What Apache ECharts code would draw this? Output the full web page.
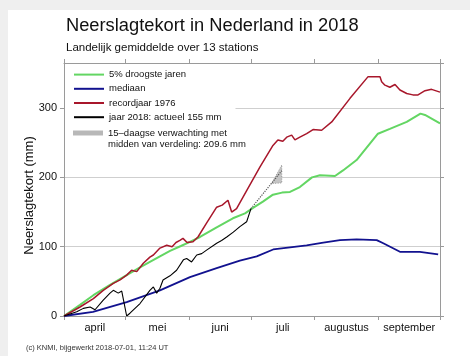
<!DOCTYPE html>
<html><head><meta charset="utf-8">
<script src="https://cdn.jsdelivr.net/npm/echarts@6/dist/echarts.min.js"></script>
<style>
html,body{margin:0;padding:0;background:#efefef}
#wrap{position:relative;width:470px;height:356px;background:#efefef;overflow:hidden}
#panel{position:absolute;left:8px;top:10px;width:462px;height:346px;background:#fff}
#c{position:absolute;left:0;top:0;width:470px;height:356px}
</style>
</head><body>
<div id="wrap"><div id="panel"></div><div id="c"></div></div>
<script>
// ---- texts ----
const titleText = 'Neerslagtekort in Nederland in 2018';
const subtitleText = 'Landelijk gemiddelde over 13 stations';
const creditText = '(c) KNMI, bijgewerkt 2018-07-01, 11:24 UT';
const yAxisName = 'Neerslagtekort (mm)';
const nameGreen = '5% droogste jaren';
const nameBlue = 'mediaan';
const nameRed = 'recordjaar 1976';
const nameBlack = 'jaar 2018: actueel 155 mm';
const nameForecast = '15\u2013daagse verwachting met';
const forecastLine2 = 'midden van verdeling: 209.6 mm';

// ---- axis ----
const monthNames = ['april', 'mei', 'juni', 'juli', 'augustus', 'september'];
const monthStarts = [0, 30, 61, 91, 122, 153, 183]; // days since 1 April
const yMax = 365;

// ---- series (day since 1 April, mm) ----
const greenDays = [0, 7.8, 14.3, 22.4, 30.5, 37, 41.8, 46.7, 51.6, 56.9, 61.3, 66.2, 74.3, 82.2, 88.1, 92, 96.8, 101.7, 106.1, 110, 114.8, 120.7, 124.6, 131.9, 135.8, 142.4, 152.8, 158.6, 166.8, 173.5, 175.7, 183];
const greenVals = [0, 16, 30, 45, 59, 70, 78, 86, 94, 101, 107, 114, 128, 141, 148, 156, 165, 175, 178, 179, 186, 200, 203, 202, 210, 225, 263, 270, 280, 292, 290, 278];

const blueDays = [0, 14.1, 30.5, 46.7, 61.3, 74.3, 85.6, 93.8, 101.8, 110, 118.1, 126.2, 134.3, 142.4, 152.2, 155.4, 163.5, 173.2, 182.1];
const blueVals = [0, 6, 20, 37, 56, 69, 80, 86, 96, 99, 102, 106, 109.5, 110.5, 109.5, 105, 92.6, 92.6, 89];

const redDays = [0, 7.8, 14.3, 19.1, 24, 27.3, 30.5, 32.9, 35.4, 38.6, 41.8, 43.5, 46.7, 50, 52.6, 54.5, 56.4, 57.9, 59.9, 62.8, 65.2, 69.6, 74.3, 77, 79.8, 81.6, 84, 88.9, 95.4, 101.7, 104.1, 106.5, 108.4, 110.8, 112.4, 114.8, 118.1, 121.2, 125.4, 130.3, 139.2, 147.9, 153.8, 154.6, 156.2, 158.6, 161.1, 163.5, 166.8, 169.8, 172.3, 175.7, 178.9, 183];
const redVals = [0, 13, 25, 37, 47, 52, 59, 66, 64, 76, 85, 88, 98, 102, 100, 106, 109, 112, 106, 107, 114, 135, 157, 160, 167, 150, 155, 181, 215, 246, 254, 252, 258, 261, 254, 258, 263, 269, 268, 280, 314, 345, 345, 338, 333, 330, 334, 326, 321, 319, 319, 325, 327, 323];

const blackDays = [0, 6.2, 9.4, 12.7, 15.1, 19.1, 22.4, 24, 26.4, 28.1, 30.5, 32.1, 37, 41.8, 43.5, 45.1, 46.7, 48.2, 51.6, 54.8, 58.1, 59.7, 62.1, 64.6, 67, 69.4, 74.3, 76.7, 79.2, 82.4, 85.6, 88.9, 90, 91];
const blackVals = [0, 6, 11, 13, 9, 23, 33, 37, 33, 36, 0, 4, 18, 37, 42, 33, 40, 52, 58, 66, 81, 83, 78, 88, 90, 95, 105, 109, 114, 121, 129, 136, 146, 155];

const forecastDays = [91, 106];
const forecastVals = [155, 209.6];
const bandDays = [101, 106];
const bandLow = [191, 192];
const bandHigh = [191, 218];

// ---- build ----
const F = '"Liberation Sans", Arial, Helvetica, sans-serif';
const axisGray = '#9a9a9a';
const txt = '#111';
const zip = (xs, ys) => xs.map((x, i) => [x, ys[i]]);
const monthMids = monthNames.map((_, i) => (monthStarts[i] + monthStarts[i + 1]) / 2);
const monthLabel = v => {
  let best = 0;
  monthMids.forEach((m, i) => { if (Math.abs(m - v) < Math.abs(monthMids[best] - v)) best = i; });
  return monthNames[best];
};

const chart = echarts.init(document.getElementById('c'), null, {renderer: 'canvas'});
const baseX = {
  type: 'value', min: 0, max: monthStarts[monthStarts.length - 1],
  axisLine: {show: true, onZero: false, lineStyle: {color: axisGray, width: 1}},
  axisTick: {show: true, inside: false, length: 4, customValues: monthStarts, lineStyle: {color: axisGray}},
  splitLine: {show: false}
};
const baseY = {
  type: 'value', min: 0, max: yMax, interval: 100,
  axisLine: {show: true, onZero: false, lineStyle: {color: axisGray, width: 1}},
  axisTick: {show: true, inside: false, length: 4, lineStyle: {color: axisGray}}
};

chart.setOption({
  animation: false,
  backgroundColor: 'transparent',
  textStyle: {fontFamily: F, color: txt},
  title: [
    {text: titleText, left: 66, top: 17, padding: 0, textStyle: {fontFamily: F, fontSize: 18.3, fontWeight: 'normal', color: txt}},
    {text: subtitleText, left: 66, top: 42, padding: 0, textStyle: {fontFamily: F, fontSize: 11.5, fontWeight: 'normal', color: txt}},
    {text: creditText, left: 26, top: 344, padding: 0, textStyle: {fontFamily: F, fontSize: 7.5, fontWeight: 'normal', color: '#333'}}
  ],
  grid: {left: 64, right: 30, top: 63, bottom: 40, outerBoundsMode: 'none', containLabel: false},
  xAxis: [
    Object.assign({}, baseX, {position: 'bottom',
      axisLabel: {customValues: monthMids, formatter: monthLabel, fontFamily: F, fontSize: 11, color: txt, margin: 6}}),
    Object.assign({}, baseX, {position: 'top', axisLabel: {show: false}})
  ],
  yAxis: [
    Object.assign({}, baseY, {position: 'left',
      axisLabel: {fontFamily: F, fontSize: 11, color: txt, margin: 7, showMaxLabel: false},
      splitLine: {show: true, lineStyle: {color: '#cfcfcf', width: 1}},
      name: yAxisName, nameLocation: 'middle', nameGap: 28, nameMoveOverlap: false,
      nameTextStyle: {fontFamily: F, fontSize: 13, color: txt, padding: [0, 12, 0, 0]}}),
    Object.assign({}, baseY, {position: 'right', axisLabel: {show: false}, splitLine: {show: false}})
  ],
  legend: [
    {orient: 'vertical', left: 65, top: 68, padding: [1, 14, 1, 8], itemGap: 3, itemWidth: 30, itemHeight: 14,
      backgroundColor: '#fff', selectedMode: false,
      itemStyle: {opacity: 0},
      textStyle: {fontFamily: F, fontSize: 9.5, color: txt},
      data: [nameGreen, nameBlue, nameRed, nameBlack]},
    {orient: 'vertical', left: 73, top: 128, padding: 0, itemGap: 0, itemWidth: 30, itemHeight: 5, selectedMode: false,
      textStyle: {fontFamily: F, fontSize: 9.5, color: txt},
      data: [{name: nameForecast, icon: 'rect', itemStyle: {color: '#b8b8b8'}}]}
  ],
  graphic: [
    {type: 'text', left: 108, top: 139, z: 100,
      style: {text: forecastLine2, font: '9.5px ' + F, fill: txt}}
  ],
  series: [
    {name: nameGreen, type: 'line', data: zip(greenDays, greenVals), symbol: 'none', z: 3,
      lineStyle: {color: '#63d663', width: 2}, itemStyle: {color: '#63d663'}},
    {name: nameBlue, type: 'line', data: zip(blueDays, blueVals), symbol: 'none', z: 3,
      lineStyle: {color: '#12128f', width: 1.8}, itemStyle: {color: '#12128f'}},
    {name: nameRed, type: 'line', data: zip(redDays, redVals), symbol: 'none', z: 4,
      lineStyle: {color: '#a8172b', width: 1.5}, itemStyle: {color: '#a8172b'}},
    {name: nameBlack, type: 'line', data: zip(blackDays, blackVals), symbol: 'none', z: 5,
      lineStyle: {color: '#000', width: 1.1}, itemStyle: {color: '#000'}},
    {name: nameForecast, type: 'custom', z: 4, encode: {x: 0, y: [1, 2]},
      itemStyle: {color: '#b8b8b8'},
      data: bandDays.map((d, i) => [d, bandLow[i], bandHigh[i]]),
      renderItem: function (params, api) {
        if (params.dataIndex !== 0) return null;
        const up = bandDays.map((d, i) => api.coord([d, bandHigh[i]]));
        const lo = bandDays.map((d, i) => api.coord([d, bandLow[i]])).reverse();
        return {type: 'polygon', shape: {points: up.concat(lo)},
          style: {fill: '#c4c4c4', stroke: '#8a8a8a', lineWidth: 0.8, lineDash: [1, 1.5]}};
      }},
    {name: 'verwachting midden', type: 'line', data: zip(forecastDays, forecastVals), symbol: 'none', z: 6,
      lineStyle: {color: '#555', width: 1.2, type: 'dotted'}, itemStyle: {color: '#555'}}
  ]
});
</script>
</body></html>
